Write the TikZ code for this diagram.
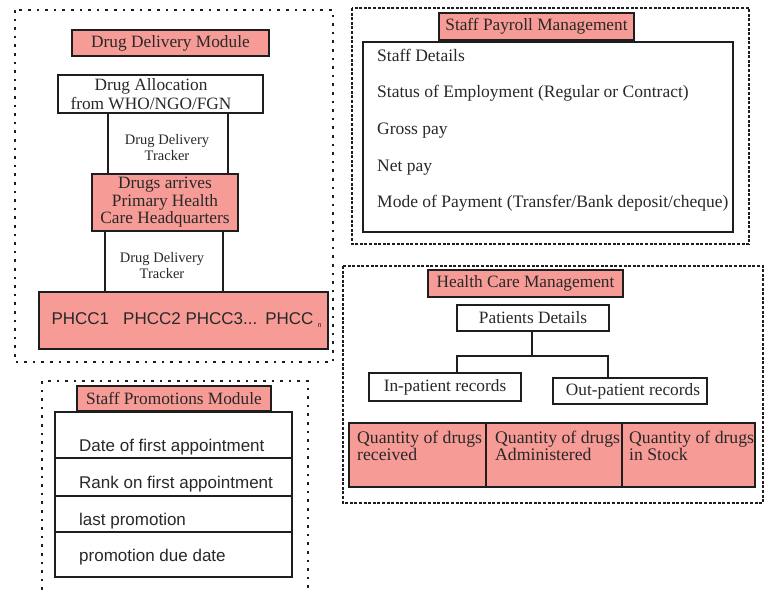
\documentclass[tikz,border=0pt]{standalone}
\usepackage{fontspec}
\setmainfont{Liberation Serif}
\setsansfont{Liberation Sans}
\definecolor{pinkfill}{RGB}{247,155,150}
\definecolor{ink}{RGB}{40,40,40}
\definecolor{edge}{RGB}{30,30,30}
\tikzset{
  box/.style={draw=edge, line width=2.3pt, inner sep=0pt, outer sep=0pt,
    font=\fontsize{17.3}{17.5}\selectfont, align=center, text=ink},
  pinkbox/.style={box, fill=pinkfill},
  whitebox/.style={box, fill=white},
  conn/.style={draw=edge, line width=2.4pt},
  sparse/.style={draw=edge, line width=2.6pt, dash pattern=on 2.6pt off 6pt},
  dense/.style={draw=edge, line width=2.2pt, dash pattern=on 3pt off 1.6pt},
  serif/.style={font=\fontsize{17.5}{17}\selectfont, text=ink, inner sep=0pt, align=left},
  qtxt/.style={font=\fontsize{17.7}{17}\selectfont, text=ink, inner sep=0pt, align=left},
  sanstxt/.style={font=\sffamily\fontsize{17}{18}\selectfont, text=ink, inner sep=0pt},
  tracker/.style={font=\fontsize{14.5}{16}\selectfont, text=ink, inner sep=0pt, align=center}
}
\begin{document}
\begin{tikzpicture}[x=1pt,y=-1pt]
\useasboundingbox (0,0) rectangle (765,590);
% containers
\draw[sparse] (15,10) rectangle (333,362);
\draw[dense] (352,8) rectangle (749,244);
\draw[dense] (343,266) rectangle (763,503);
\draw[sparse] (42,590) -- (42,381) -- (308,381) -- (308,590);

% ---------- Drug delivery module ----------
\node[pinkbox, minimum width=197pt, minimum height=26pt] (ddm) at (170.5,43) {Drug Delivery Module};
\node[whitebox, minimum width=205pt, minimum height=38pt] (alloc) at (160.5,94) {};
\node[box, draw=none, font=\fontsize{17.3}{18.5}\selectfont] (alloct) at (151,94) {Drug Allocation\\from WHO/NGO/FGN};
\node[pinkbox, minimum width=146pt, minimum height=57pt] (arr) at (165,202.5) {Drugs arrives\\Primary Health\\Care Headquarters};
\node[pinkbox, minimum width=289pt, minimum height=57pt, font=\sffamily\fontsize{17}{17}\selectfont] (phcc) at (183.5,320.5)
  {\hspace*{6pt}\raisebox{-6pt}{PHCC1\hspace{14pt}PHCC2 PHCC3...\hspace{8pt}PHCC\hspace{4pt}{\fontsize{7}{7}\selectfont\raisebox{-3pt}{n}}}};
\coordinate (ua) at (108,0);
\coordinate (ub) at (228,0);
\coordinate (la) at (105,0);
\coordinate (lb) at (223,0);
\draw[conn] (alloc.south -| ua) -- (arr.north -| ua);
\draw[conn] (alloc.south -| ub) -- (arr.north -| ub);
\draw[conn] (arr.south -| la) -- (phcc.north -| la);
\draw[conn] (arr.south -| lb) -- (phcc.north -| lb);
\node[tracker] (tr1) at (167,148) {Drug Delivery\\Tracker};
\node[tracker] (tr2) at (162,266) {Drug Delivery\\Tracker};

% ---------- Staff payroll ----------
\node[whitebox, minimum width=370pt, minimum height=190pt] (pay) at (548,137) {};
\node[pinkbox, minimum width=195pt, minimum height=27pt] (payt) at (536.5,26.5) {Staff Payroll Management};
\node[serif, anchor=base west] (p1) at (377,61) {Staff Details};
\node[serif, anchor=base west] (p2) at (377,97.3) {Status of Employment (Regular or Contract)};
\node[serif, anchor=base west] (p3) at (377,134) {Gross pay};
\node[serif, anchor=base west] (p4) at (377,171.7) {Net pay};
\node[serif, anchor=base west] (p5) at (377,207.3) {Mode of Payment (Transfer/Bank deposit/cheque)};

% ---------- Health care ----------
\node[pinkbox, minimum width=195pt, minimum height=27pt] (hct) at (525.5,283.5) {Health Care Management};
\node[whitebox, minimum width=152pt, minimum height=26pt] (pat) at (533,318) {Patients Details};
\node[whitebox, minimum width=152pt, minimum height=28pt] (inr) at (445,387) {In-patient records};
\node[whitebox, minimum width=154pt, minimum height=26pt] (outr) at (630,391) {\hspace{6pt}Out-patient records};
\coordinate (jc) at (532,356);
\coordinate (jl) at (457,356);
\coordinate (jr) at (608,356);
\draw[conn] (pat.south -| jc) -- (jc);
\draw[conn] (inr.north -| jl) -- (jl) -- (jr) -- (outr.north -| jr);
\node[pinkbox, minimum width=137pt, minimum height=64pt] (q1) at (417.5,455) {};
\node[pinkbox, minimum width=136pt, minimum height=64pt] (q2) at (554,455) {};
\node[pinkbox, minimum width=133pt, minimum height=64pt] (q3) at (688.5,455) {};
\node[qtxt, anchor=base west] (q1t) at (357,443) {Quantity of drugs};
\node[qtxt, anchor=base west] (q1u) at (357,460.5) {received};
\node[qtxt, anchor=base west] (q2t) at (495,443) {Quantity of drugs};
\node[qtxt, anchor=base west] (q2u) at (495,460.5) {Administered};
\node[qtxt, anchor=base west] (q3t) at (629,443) {Quantity of drugs};
\node[qtxt, anchor=base west] (q3u) at (629,460.5) {in Stock};

% ---------- Staff promotions ----------
\node[whitebox, minimum width=237pt, minimum height=165pt] (prb) at (173.5,494.5) {};
\node[pinkbox, minimum width=194pt, minimum height=25pt] (prt) at (174,398.5) {Staff Promotions Module};
\coordinate (d1) at (0,458);
\coordinate (d2) at (0,496);
\coordinate (d3) at (0,532);
\draw[conn] (prb.west |- d1) -- (prb.east |- d1);
\draw[conn] (prb.west |- d2) -- (prb.east |- d2);
\draw[conn] (prb.west |- d3) -- (prb.east |- d3);
\node[sanstxt, anchor=base west] (s1) at (79,451) {Date of first appointment};
\node[sanstxt, anchor=base west] (s2) at (79,488.3) {Rank on first appointment};
\node[sanstxt, anchor=base west] (s3) at (79,525) {last promotion};
\node[sanstxt, anchor=base west] (s4) at (79,561.7) {promotion due date};
\end{tikzpicture}
\end{document}
